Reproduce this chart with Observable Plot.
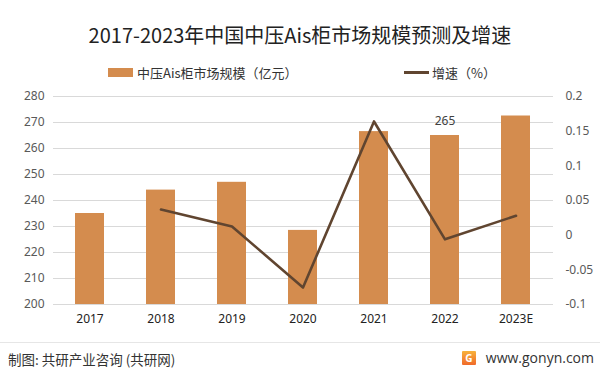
<!DOCTYPE html>
<html><head><meta charset="utf-8">
<script src="https://cdn.jsdelivr.net/npm/d3@7"></script>
<script src="https://cdn.jsdelivr.net/npm/@observablehq/plot@0.6"></script>
<style>
body{margin:0;width:600px;height:375px;background:#fff;font-family:"Noto Sans CJK SC","Noto Sans",sans-serif;overflow:hidden;position:relative}
#title{height:60px;display:flex;align-items:center;justify-content:center;padding-top:8px;box-sizing:border-box;font-size:20px;color:#222}
#legend{height:25px;position:relative;font-size:13px;color:#333}
.lg{position:absolute;top:3px;display:flex;align-items:center}
#chart{height:250px}
#footer{position:absolute;left:0;top:342px;width:600px;height:33px;border-top:1px solid #e6e6e6}
#fl{position:absolute;left:8px;top:6px;font-size:13.5px;color:#333}
#fr{position:absolute;right:6px;top:5px;font-size:14px;color:#333;display:flex;align-items:center;font-family:"Open Sans","Noto Sans",sans-serif}
#logo{width:14px;height:14px;background:linear-gradient(#f7b23b,#f06a2a);margin-right:10px;border-radius:1px;color:#fff;font-size:10px;font-weight:bold;line-height:14px;text-align:center}
</style></head>
<body>
<div id="title">2017-2023年中国中压Ais柜市场规模预测及增速</div>
<div id="legend">
  <div class="lg" style="left:108px"><span style="display:inline-block;width:25px;height:9px;background:#D48C4E;margin-right:4px"></span>中压Ais柜市场规模（亿元）</div>
  <div class="lg" style="left:404px"><span style="display:inline-block;width:25px;height:3px;background:#604530;margin-right:3px"></span>增速（%）</div>
</div>
<div id="chart"></div>
<div id="footer"><div id="fl">制图: 共研产业咨询 (共研网)</div><div id="fr"><div id="logo">G</div>www.gonyn.com</div></div>
<script>
const years = ["2017","2018","2019","2020","2021","2022","2023E"];
const sizes = [235, 244, 247, 228.5, 266.5, 265, 272.5];
const growth = [null, 0.037, 0.0125, -0.0755, 0.164, -0.006, 0.028];
const leftTicks = [200,210,220,230,240,250,260,270,280];
const rightTicks = [-0.1,-0.05,0,0.05,0.1,0.15,0.2];
const labelYear = "2022";

const toLeft = g => 200 + (g + 0.1) / 0.3 * 80;
const barData = years.map((y,i)=>({year:y, v:sizes[i]}));
const lineData = years.map((y,i)=>({year:y, g:growth[i]})).filter(d=>d.g!==null).map(d=>({year:d.year, v:toLeft(d.g)}));

const chart = Plot.plot({
  width:600, height:250,
  marginTop:11, marginBottom:31, marginLeft:53, marginRight:47,
  style:{fontFamily:"'Noto Sans','DejaVu Sans',sans-serif", fontSize:"12px", color:"#595959"},
  x:{domain:years, paddingInner:0.59, paddingOuter:0.295, label:null},
  y:{domain:[200,280], label:null},
  marks:[
    Plot.gridY(leftTicks, {stroke:"#d9d9d9", strokeOpacity:1}),
    Plot.barY(barData, {x:"year", y1:200, y2:"v", fill:"#D48C4E"}),
    Plot.lineY(lineData, {x:"year", y:"v", stroke:"#604530", strokeWidth:2.6}),
    Plot.text(barData.filter(d=>d.year===labelYear), {x:"year", y:"v", text:d=>String(Math.round(d.v)), dy:-14, fill:"#404040", fontSize:12}),
    Plot.axisY(leftTicks, {anchor:"left", tickSize:0, tickPadding:9, fill:"#595959", fontSize:12}),
    Plot.axisY(rightTicks.map(toLeft), {anchor:"right", tickSize:0, tickPadding:12, textAnchor:"start", tickFormat:(d,i)=>String(rightTicks[i]), fill:"#595959", fontSize:12}),
    Plot.axisX({tickSize:0, tickPadding:10, fill:"#222", fontSize:12})
  ]
});
document.getElementById("chart").appendChild(chart);
</script>
</body></html>
